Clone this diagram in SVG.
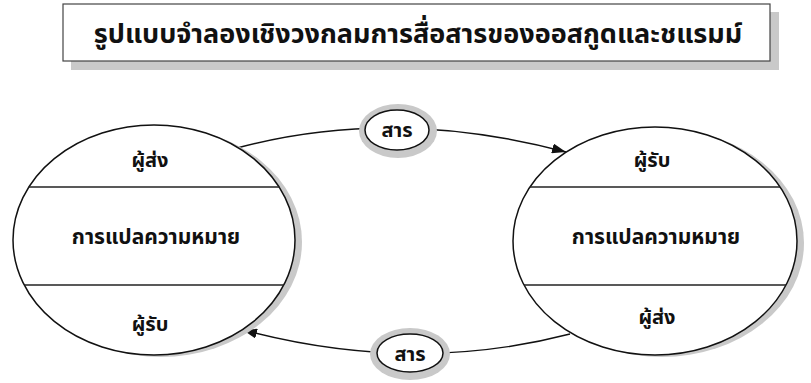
<svg xmlns="http://www.w3.org/2000/svg" width="811" height="383" viewBox="0 0 811 383">
<style>
.t{font-family:"Noto Sans Thai","Noto Sans","DejaVu Sans",sans-serif;font-weight:bold;fill:#111;text-anchor:middle}
.lbl{font-size:20px}
.big{font-size:21px}
.ol{fill:#fff;stroke:#111;stroke-width:1.5}
.sh{fill:#c9c9c9}
.div{stroke:#222;stroke-width:1.5}
.con{fill:none;stroke:#111;stroke-width:1.4}
</style>
<defs>
<marker id="arr" viewBox="0 0 14 10" refX="14" refY="5" markerWidth="14" markerHeight="10" markerUnits="userSpaceOnUse" orient="auto">
<path d="M0,0 L14,5 L0,10 Z" fill="#111"/>
</marker>
<clipPath id="cl"><ellipse cx="154" cy="240" rx="141" ry="115"/></clipPath>
<clipPath id="cr"><ellipse cx="655" cy="241" rx="142" ry="114"/></clipPath>
</defs>
<rect width="811" height="383" fill="#fff"/>

<g id="title">
<rect class="sh" x="71" y="12" width="708" height="58"/>
<rect x="63" y="4" width="707" height="57" fill="#fff" stroke="#444" stroke-width="1.2"/>
<text class="t" x="418" y="43" font-size="27">รูปแบบจำลองเชิงวงกลมการสื่อสารของออสกูดและชแรมม์</text>
</g>

<g id="connectors">
<path class="con" d="M237,148 Q393,106 566,152" marker-end="url(#arr)"/>
<path class="con" d="M570,334 Q412,375 243,330" marker-end="url(#arr)"/>
</g>

<g id="left-circle">
<ellipse class="sh" cx="161" cy="242" rx="141" ry="115"/>
<ellipse class="ol" cx="154" cy="240" rx="141" ry="115"/>
<g clip-path="url(#cl)">
<line class="div" x1="0" y1="187" x2="320" y2="187"/>
<line class="div" x1="0" y1="285" x2="320" y2="285"/>
</g>
<text class="t lbl" x="150" y="167">ผู้ส่ง</text>
<text class="t big" x="156" y="244">การแปลความหมาย</text>
<text class="t lbl" x="150" y="331">ผู้รับ</text>
</g>

<g id="right-circle">
<ellipse class="sh" cx="662" cy="243" rx="142" ry="114"/>
<ellipse class="ol" cx="655" cy="241" rx="142" ry="114"/>
<g clip-path="url(#cr)">
<line class="div" x1="500" y1="187" x2="811" y2="187"/>
<line class="div" x1="500" y1="285" x2="811" y2="285"/>
</g>
<text class="t lbl" x="652" y="167">ผู้รับ</text>
<text class="t big" x="656" y="244">การแปลความหมาย</text>
<text class="t lbl" x="657" y="324">ผู้ส่ง</text>
</g>

<g id="msg-top">
<ellipse class="sh" cx="398" cy="131" rx="39" ry="27"/>
<ellipse class="ol" cx="397" cy="130" rx="32" ry="20"/>
<text class="t lbl" x="397" y="137">สาร</text>
</g>

<g id="msg-bottom">
<ellipse class="sh" cx="410" cy="354" rx="40" ry="26"/>
<ellipse class="ol" cx="410" cy="353" rx="33" ry="19"/>
<text class="t lbl" x="410" y="361">สาร</text>
</g>
</svg>
